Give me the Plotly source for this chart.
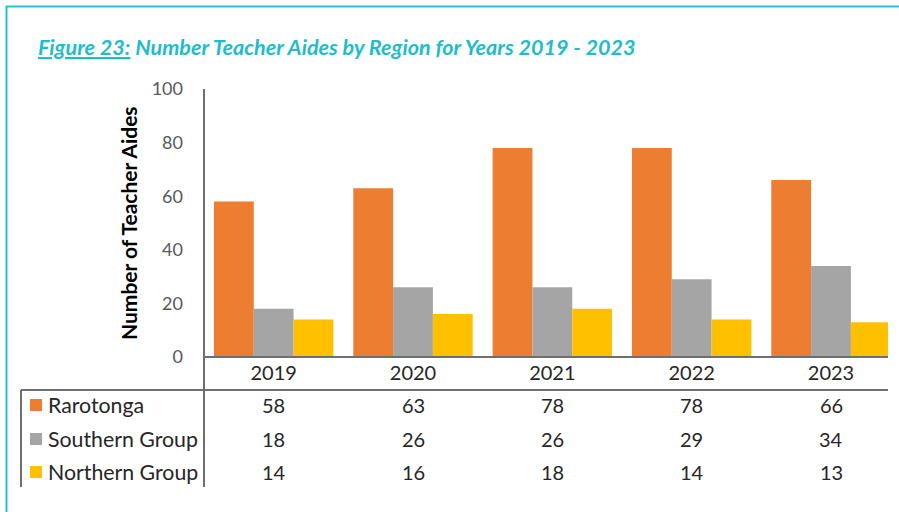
import plotly.graph_objects as go

years = ["2019", "2020", "2021", "2022", "2023"]
series_names = ["Rarotonga", "Southern Group", "Northern Group"]
rarotonga = [58, 63, 78, 78, 66]
southern = [18, 26, 26, 29, 34]
northern = [14, 16, 18, 14, 13]
colors = ["#ED7D31", "#A5A5A5", "#FFC000"]
y_ticks = [0, 20, 40, 60, 80, 100]

W, H = 899, 512
def px(x):
    return x / W
def py(y):
    return 1 - y / H

series_values = [rarotonga, southern, northern]

fig = go.Figure()
for name, vals, c in zip(series_names, series_values, colors):
    fig.add_trace(go.Bar(x=years, y=vals, name=name, marker=dict(color=c, line=dict(width=0)),
                         showlegend=False, hoverinfo="x+y+name"))

FONT = "Lato"
TXT = "#262626"
LINE = "#6E6E6E"
TEAL = "#22C3D2"

shapes = []
# teal frame
shapes.append(dict(type="line", xref="paper", yref="paper", x0=px(6), x1=px(899), y0=py(6.5), y1=py(6.5),
                   line=dict(color=TEAL, width=2)))
shapes.append(dict(type="line", xref="paper", yref="paper", x0=px(6.5), x1=px(6.5), y0=py(6), y1=py(512),
                   line=dict(color=TEAL, width=2)))
# y axis line extending through table
shapes.append(dict(type="line", xref="paper", yref="paper", x0=px(204), x1=px(204), y0=py(89), y1=py(487),
                   line=dict(color=LINE, width=2)))
# baseline
shapes.append(dict(type="line", xref="paper", yref="paper", x0=px(204), x1=px(888), y0=py(357), y1=py(357),
                   line=dict(color=LINE, width=2)))
# table top line
shapes.append(dict(type="line", xref="paper", yref="paper", x0=px(21), x1=px(888), y0=py(390), y1=py(390),
                   line=dict(color=LINE, width=2)))
# table left border
shapes.append(dict(type="line", xref="paper", yref="paper", x0=px(21), x1=px(21), y0=py(390), y1=py(487),
                   line=dict(color=LINE, width=2)))

row_y = [405, 439, 472]
annotations = []
for name, vals, c, ry in zip(series_names, series_values, colors, row_y):
    shapes.append(dict(type="rect", xref="paper", yref="paper", x0=px(30), x1=px(42), y0=py(ry - 6), y1=py(ry + 6),
                       fillcolor=c, line=dict(width=0)))
    annotations.append(dict(text=name, xref="paper", yref="paper", x=px(46), y=py(ry), xanchor="left",
                            yanchor="middle", showarrow=False, font=dict(family=FONT, size=21.3, color=TXT)))
    for i, v in enumerate(vals):
        annotations.append(dict(text=str(v), xref="x", yref="paper", x=i, y=py(ry), xanchor="center",
                                yanchor="middle", showarrow=False, font=dict(family=FONT, size=20, color=TXT)))

annotations.append(dict(text="<i><b><u>Figure 23:</u> Number Teacher Aides by Region for Years 2019 - 2023</b></i>",
                        xref="paper", yref="paper", x=px(36), y=py(47), xanchor="left", yanchor="middle",
                        showarrow=False, font=dict(family=FONT, size=21.6, color="#1FBCC9")))
annotations.append(dict(text="<b>Number of Teacher Aides</b>", xref="paper", yref="paper", x=px(128), y=py(223),
                        xanchor="center", yanchor="middle", textangle=-90, showarrow=False,
                        font=dict(family=FONT, size=21, color="#000000")))

fig.update_layout(
    width=W, height=H,
    margin=dict(l=0, r=0, t=0, b=0, autoexpand=False),
    paper_bgcolor="white", plot_bgcolor="white",
    barmode="group", bargap=0.143, bargroupgap=0,
    shapes=shapes, annotations=annotations,
    xaxis=dict(domain=[px(204), px(888)], type="category", range=[-0.5, 4.409], automargin=False,
               showline=False, showgrid=False, zeroline=False, ticks="",
               tickfont=dict(family=FONT, size=20, color=TXT), ticklabelstandoff=2),
    yaxis=dict(domain=[py(357), py(89)], range=[0, 100], tickvals=y_ticks, automargin=False,
               showline=False, showgrid=False, zeroline=False, ticks="",
               tickfont=dict(family=FONT, size=18, color="#595959"), ticklabelstandoff=20),
)

fig.write_html("out.html", config={"displayModeBar": False},
               post_script="document.body.style.margin='0';")
